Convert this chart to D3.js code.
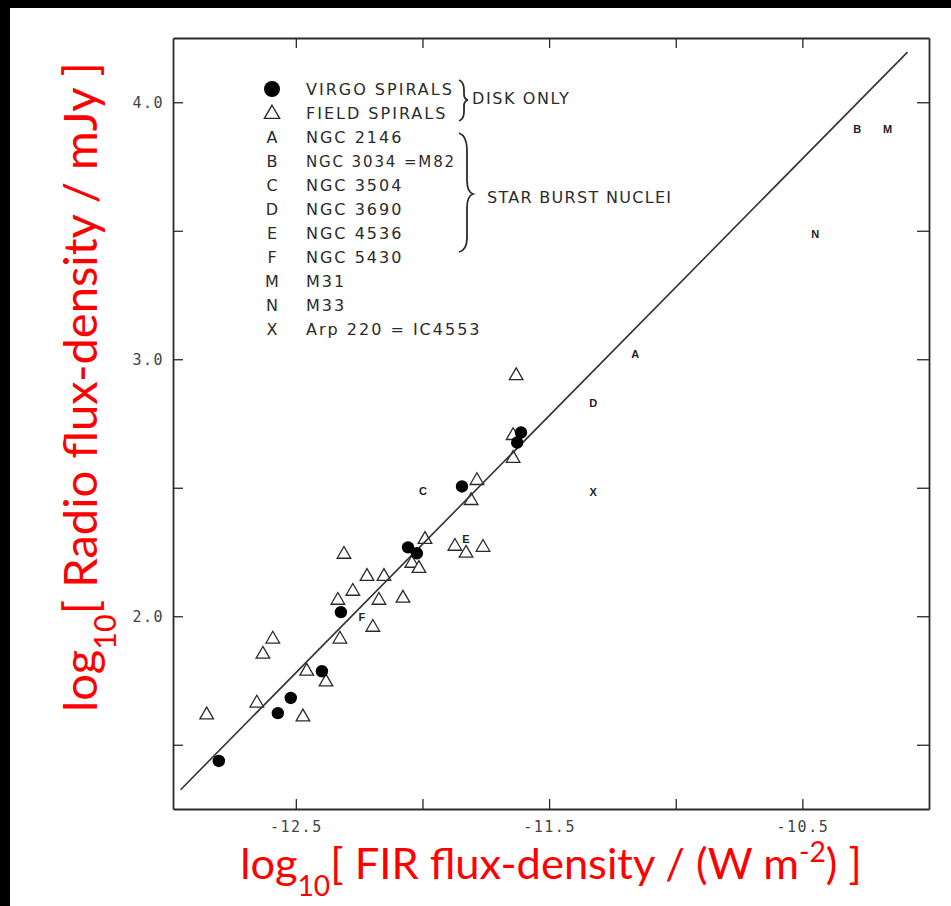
<!DOCTYPE html>
<html>
<head>
<meta charset="utf-8">
<script src="https://cdn.jsdelivr.net/npm/d3@7"></script>
<style>
	body { margin: 0; background: #fff; }
	svg { display: block; }
</style>
</head>
<body>
<div id="wrapper"></div>
<script>
// virgo spirals (filled circles)
const virgoX = [-12.804, -12.571, -12.520, -12.397, -12.322, -12.057, -12.022, -11.844, -11.611, -11.626];
const virgoY = [1.437, 1.623, 1.682, 1.786, 2.016, 2.268, 2.245, 2.505, 2.715, 2.676];

// field spirals (open triangles)
const fieldX = [-12.852, -12.654, -12.630, -12.591, -12.472, -12.457, -12.381, -12.334, -12.326, -12.310,
	-12.275, -12.219, -12.196, -12.172, -12.152, -12.077, -12.042, -12.014, -11.990, -11.872,
	-11.828, -11.761, -11.808, -11.785, -11.642, -11.642, -11.630];
const fieldY = [1.616, 1.662, 1.852, 1.911, 1.608, 1.786, 1.744, 2.062, 1.911, 2.241,
	2.097, 2.155, 1.957, 2.062, 2.155, 2.070, 2.206, 2.186, 2.299, 2.272,
	2.245, 2.268, 2.450, 2.528, 2.614, 2.703, 2.936];

// lettered objects
const starLetters = ['A', 'B', 'C', 'D', 'E', 'F', 'M', 'N', 'X'];
const starX = [-11.160, -10.283, -11.998, -11.326, -11.828, -12.239, -10.164, -10.449, -11.326];
const starY = [3.021, 3.895, 2.489, 2.831, 2.299, 1.996, 3.895, 3.487, 2.482];

// fitted line end points
const fitX = [-12.955, -10.085];
const fitY = [1.325, 4.195];

// axes
const xTicks = [-12.5, -12.0, -11.5, -11.0, -10.5];
const xLabels = [-12.5, -11.5, -10.5];
const yTicks = [1.5, 2.0, 2.5, 3.0, 3.5, 4.0];
const yLabels = [2.0, 3.0, 4.0];

// legend
const legendKeys = ['dot', 'tri', 'A', 'B', 'C', 'D', 'E', 'F', 'M', 'N', 'X'];
const legendNames = ['VIRGO SPIRALS', 'FIELD SPIRALS', 'NGC 2146', 'NGC 3034 =M82', 'NGC 3504',
	'NGC 3690', 'NGC 4536', 'NGC 5430', 'M31', 'M33', 'Arp 220 = IC4553'];

(() => {
	const width = 951, height = 906;
	const frame = { left: 173, right: 929, top: 38, bottom: 809 };
	const ink = '#2a2a2a';

	const svg = d3.select('#wrapper').append('svg')
		.attr('width', width)
		.attr('height', height);

	svg.append('rect').attr('width', width).attr('height', height).attr('fill', '#fff');
	// black border bands (top and left)
	svg.append('rect').attr('width', width).attr('height', 8).attr('fill', '#000');
	svg.append('rect').attr('width', 10).attr('height', height).attr('fill', '#000');

	const x = d3.scaleLinear().domain([-12.985, -10.0]).range([frame.left, frame.right]);
	const y = d3.scaleLinear().domain([1.25, 4.25]).range([frame.bottom, frame.top]);

	const fmt = (list) => (d) => list.indexOf(d) > -1 ? d.toFixed(1) : '';

	const styleAxis = (g) => {
		g.select('.domain').attr('stroke', ink).attr('stroke-width', 1.8);
		g.selectAll('.tick line').attr('stroke', ink).attr('stroke-width', 1.3);
		g.selectAll('.tick text')
			.attr('fill', '#444')
			.style('font-family', '"DejaVu Sans Mono", monospace')
			.style('font-size', '15px')
			.style('letter-spacing', '1.5px');
	};

	svg.append('g')
		.attr('transform', `translate(0,${frame.bottom})`)
		.call(d3.axisBottom(x).tickValues(xTicks).tickSize(-10).tickSizeOuter(0)
			.tickPadding(12).tickFormat(fmt(xLabels)))
		.call(styleAxis);

	svg.append('g')
		.attr('transform', `translate(0,${frame.top})`)
		.call(d3.axisTop(x).tickValues(xTicks).tickSize(-10).tickSizeOuter(0).tickFormat(''))
		.call(styleAxis);

	svg.append('g')
		.attr('transform', `translate(${frame.left},0)`)
		.call(d3.axisLeft(y).tickValues(yTicks).tickSize(-10).tickSizeOuter(0)
			.tickPadding(9).tickFormat(fmt(yLabels)))
		.call(styleAxis);

	svg.append('g')
		.attr('transform', `translate(${frame.right},0)`)
		.call(d3.axisRight(y).tickValues(yTicks).tickSize(-12).tickSizeOuter(0).tickFormat(''))
		.call(styleAxis);

	const plot = svg.append('g');

	// field spirals
	const tri = d3.symbol().type(d3.symbolTriangle).size(80);
	plot.selectAll('.field')
		.data(d3.zip(fieldX, fieldY))
		.enter()
		.append('path')
		.attr('class', 'field')
		.attr('d', tri)
		.attr('transform', (d) => `translate(${x(d[0])},${y(d[1])})`)
		.attr('fill', '#fff')
		.attr('stroke', ink)
		.attr('stroke-width', 1.3);

	// fitted line
	plot.append('path')
		.datum(d3.zip(fitX, fitY))
		.attr('d', d3.line().x((d) => x(d[0])).y((d) => y(d[1])))
		.attr('fill', 'none')
		.attr('stroke', '#333')
		.attr('stroke-width', 1.6);

	// virgo spirals
	plot.selectAll('.virgo')
		.data(d3.zip(virgoX, virgoY))
		.enter()
		.append('circle')
		.attr('class', 'virgo')
		.attr('cx', (d) => x(d[0]))
		.attr('cy', (d) => y(d[1]))
		.attr('r', 6.2)
		.attr('fill', '#000');

	// star burst letters
	plot.selectAll('.star')
		.data(d3.zip(starLetters, starX, starY))
		.enter()
		.append('text')
		.attr('class', 'star')
		.attr('x', (d) => x(d[1]))
		.attr('y', (d) => y(d[2]))
		.attr('dy', '0.36em')
		.attr('text-anchor', 'middle')
		.attr('fill', '#222')
		.style('font-family', '"Liberation Sans", sans-serif')
		.style('font-weight', 'bold')
		.style('font-size', '11px')
		.text((d) => d[0]);

	// legend
	const legend = svg.append('g');
	const rowY = (i) => 89 + i * 24;
	const legendFont = (sel) => sel
		.attr('fill', '#2b2b2b')
		.style('font-family', '"DejaVu Sans", sans-serif')
		.style('font-size', '16px')
		.style('letter-spacing', '2px');

	const rows = legend.selectAll('.row')
		.data(d3.zip(legendKeys, legendNames))
		.enter()
		.append('g')
		.attr('class', 'row')
		.attr('transform', (d, i) => `translate(0,${rowY(i)})`);

	rows.each(function(d) {
		const row = d3.select(this);
		if (d[0] === 'dot') {
			row.append('circle').attr('cx', 272).attr('r', 8).attr('fill', '#000');
		} else if (d[0] === 'tri') {
			row.append('path')
				.attr('d', d3.symbol().type(d3.symbolTriangle).size(100))
				.attr('transform', 'translate(272,1)')
				.attr('fill', '#fff').attr('stroke', ink).attr('stroke-width', 1.4);
		} else {
			row.append('text')
				.attr('x', 272).attr('dy', '0.36em')
				.attr('text-anchor', 'middle')
				.call(legendFont)
				.style('letter-spacing', '0px')
				.text(d[0]);
		}
		const label = row.append('text')
			.attr('x', 306).attr('dy', '0.36em')
			.call(legendFont)
			.text(d[1]);
		// the M82 row is set tighter so it stops short of the brace
		if (d[0] === 'B') {
			label.attr('textLength', 150).attr('lengthAdjust', 'spacingAndGlyphs');
		}
	});

	// braces
	const brace = d3.path();
	brace.moveTo(459, 80);
	brace.quadraticCurveTo(464, 82, 464, 90);
	brace.lineTo(464, 94);
	brace.quadraticCurveTo(464, 99, 468, 100);
	brace.quadraticCurveTo(464, 101, 464, 106);
	brace.lineTo(464, 112);
	brace.quadraticCurveTo(464, 119, 459, 121);
	brace.moveTo(459, 133);
	brace.quadraticCurveTo(467, 136, 467, 150);
	brace.lineTo(467, 180);
	brace.quadraticCurveTo(467, 192, 473, 194);
	brace.quadraticCurveTo(467, 196, 467, 208);
	brace.lineTo(467, 238);
	brace.quadraticCurveTo(467, 250, 459, 252);
	legend.append('path')
		.attr('d', brace.toString())
		.attr('fill', 'none')
		.attr('stroke', '#2b2b2b')
		.attr('stroke-width', 1.8);

	legend.append('text').attr('x', 472).attr('y', 98).attr('dy', '0.36em')
		.call(legendFont).style('font-size', '16px').style('letter-spacing', '1.6px')
		.text('DISK ONLY');
	legend.append('text').attr('x', 487).attr('y', 197).attr('dy', '0.36em')
		.call(legendFont).style('font-size', '16px').style('letter-spacing', '1.3px')
		.text('STAR BURST NUCLEI');

	// axis titles, fitted to the measured extent
	const title = (parts, target) => {
		const t = svg.append('text')
			.attr('fill', '#ff0000')
			.attr('text-anchor', 'middle')
			.style('font-family', 'Lato, "Open Sans", sans-serif')
			.style('font-size', '40px');
		parts.forEach((p) => {
			const s = t.append('tspan').text(p.text);
			if (p.shift) {
				s.attr('baseline-shift', p.shift).style('font-size', '26px');
			}
		});
		const w = t.node().getComputedTextLength();
		const size = 40 * target / w;
		t.style('font-size', size + 'px');
		t.selectAll('tspan').filter(function() { return d3.select(this).attr('baseline-shift'); })
			.style('font-size', (size * 0.65) + 'px');
		return t;
	};

	title([
		{ text: 'log' }, { text: '10', shift: 'sub' },
		{ text: '[ FIR flux-density / (W m' }, { text: '-2', shift: 'super' }, { text: ') ]' }
	], 622).attr('x', 551).attr('y', 879);

	title([
		{ text: 'log' }, { text: '10', shift: 'sub' },
		{ text: '[ Radio flux-density / mJy ]' }
	], 650).attr('transform', 'translate(97,387) rotate(-90)');
})();
</script>
</body>
</html>
